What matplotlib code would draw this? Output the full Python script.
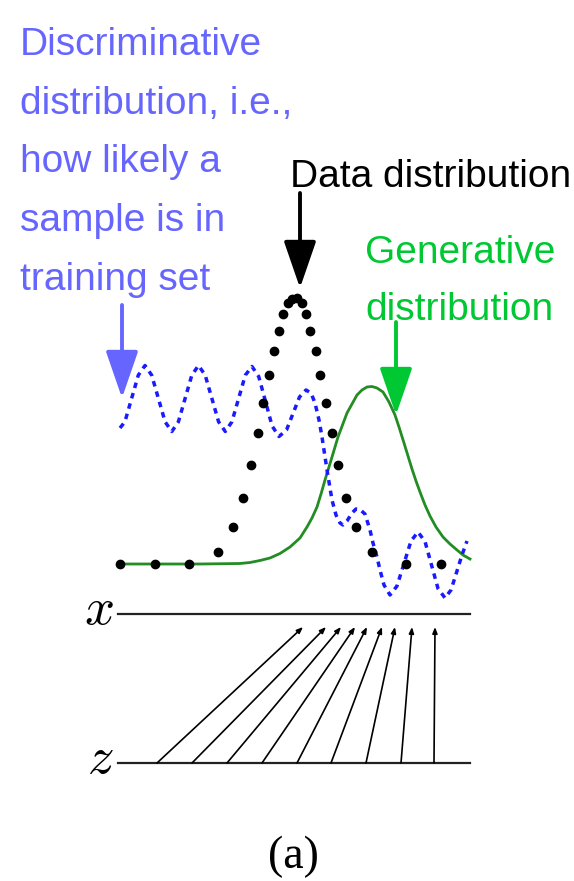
import matplotlib
matplotlib.use("Agg")
import matplotlib.pyplot as plt

plt.rcParams['mathtext.fontset'] = 'cm'

# everything is laid out in pixel coordinates of the 574x881 picture
# data distribution (black dots)
data_x = [120, 155, 189, 218, 233, 243, 251, 258, 263, 269, 274, 279, 283, 288,
          292, 297, 302, 306, 310, 316, 320, 326, 332, 338, 346, 356, 372, 406, 441]
data_y = [564, 564, 564, 552, 527, 498, 465, 433, 403, 375, 351, 331, 314, 303,
          299, 298, 303, 314, 331, 351, 375, 403, 433, 465, 498, 527, 552, 564, 564]

# generative distribution (green line)
gen_x = [120, 200, 240, 250, 260, 270, 280, 290, 300, 307, 312, 317, 321, 325, 332,
         338, 347, 357, 362, 367, 372, 377, 383, 389, 395, 399, 404, 408, 412, 416,
         420, 425, 430, 436, 443, 450, 457, 463, 470]
gen_y = [564, 564, 563.5, 562.5, 560.5, 558, 553.5, 547, 538, 527, 518, 507, 494,
         480, 457, 437, 413, 395, 390, 387, 386.5, 388, 392, 402, 415, 427, 443, 456,
         469, 481, 492, 505, 516, 527, 537, 544, 550, 555, 559]

# discriminative distribution (blue dotted line)
disc_x = [120, 124.9, 131.6, 138.3, 145, 151.7, 158.4, 165.1, 171.8, 178.4, 185.1,
          191.8, 198.5, 205.2, 211.9, 218.6, 225.3, 231.9, 238.6, 245.3, 252, 258.7,
          265.4, 272.1, 279, 286.5, 293, 299.5, 306, 311, 315, 319, 322, 327, 332,
          336, 340, 343, 347, 352, 356, 360, 365, 370, 373, 377, 380, 384, 390, 397,
          404, 411, 418, 425, 431.5, 438, 445, 451, 457, 462, 467]
disc_y = [428, 421.8, 398.5, 375.2, 365.5, 375.2, 398.5, 421.8, 431.5, 421.8, 398.5,
          375.2, 365.5, 375.2, 398.5, 421.8, 431.5, 421.8, 398.5, 375.2, 366.5, 376.5,
          401, 426, 436.5, 430, 413.5, 397, 390, 393, 403, 420, 437, 470, 500,
          515, 523, 525, 521, 513, 509, 509.5, 514, 530, 543, 557, 570, 585, 595, 586,
          563.5, 541, 532, 541.5, 565, 588.5, 598, 590, 571, 555, 541]

# mapping z -> x
z_pos = [157, 192, 227, 262, 297, 331, 366, 401, 434]
x_pos = [303, 326, 341, 355, 367, 382, 395, 412, 435]

blue = '#6666ff'
green_txt = '#00c832'
green_line = '#238c23'

fig = plt.figure(figsize=(5.74, 8.81), dpi=100)
ax = fig.add_axes([0, 0, 1, 1])
ax.set_xlim(0, 574)
ax.set_ylim(881, 0)
ax.axis('off')

ax.plot(gen_x, gen_y, color=green_line, lw=2.0, zorder=2)
ax.plot(disc_x, disc_y, color='#1a1aff', lw=2.5, dashes=(1.6, 1.5),
        dash_capstyle='butt', zorder=3)
ax.plot(data_x, data_y, 'o', color='black', ms=6, zorder=4)

# x and z axes
ax.plot([118, 470], [614, 614], color='#222222', lw=1.6)
ax.plot([118, 470], [763, 763], color='#222222', lw=1.6)
ax.text(114, 624, r'$x$', fontsize=38, ha='right', va='baseline')
ax.text(114, 773, r'$z$', fontsize=38, ha='right', va='baseline')

for zx, xx in zip(z_pos, x_pos):
    ax.annotate('', xy=(xx, 627), xytext=(zx, 763),
                arrowprops=dict(arrowstyle='-|>,head_length=0.45,head_width=0.18',
                                mutation_scale=8, lw=1.2, color='black',
                                shrinkA=0, shrinkB=0))

# labels and their arrows
font = ['Liberation Sans', 'DejaVu Sans']
blue_lines = ['Discriminative', 'distribution, i.e.,', 'how likely a',
              'sample is in', 'training set']
for i, s in enumerate(blue_lines):
    ax.text(20, 55 + 58.75 * i, s, color=blue, fontsize=28, family=font,
            va='baseline', ha='left')

ax.text(290, 187, 'Data distribution', color='black', fontsize=28, family=font,
        va='baseline', ha='left')
ax.text(365, 263, 'Generative', color=green_txt, fontsize=28, family=font,
        va='baseline', ha='left')
ax.text(365, 320, 'distribution', color=green_txt, fontsize=28, family=font,
        va='baseline', ha='left')


def big_arrow(x, y0, y1, color):
    ax.annotate('', xy=(x, y1), xytext=(x, y0),
                arrowprops=dict(arrowstyle='-|>,head_length=29,head_width=10',
                                mutation_scale=1, lw=2.8, color=color,
                                shrinkA=0, shrinkB=0))


big_arrow(122, 305, 398, blue)
big_arrow(300, 193, 288, 'black')
big_arrow(396, 322, 415, green_txt)

ax.text(293, 868, '(a)', fontsize=33, family=['Liberation Serif', 'DejaVu Serif'],
        ha='center', va='baseline')

fig.savefig('out.png', dpi=100)
